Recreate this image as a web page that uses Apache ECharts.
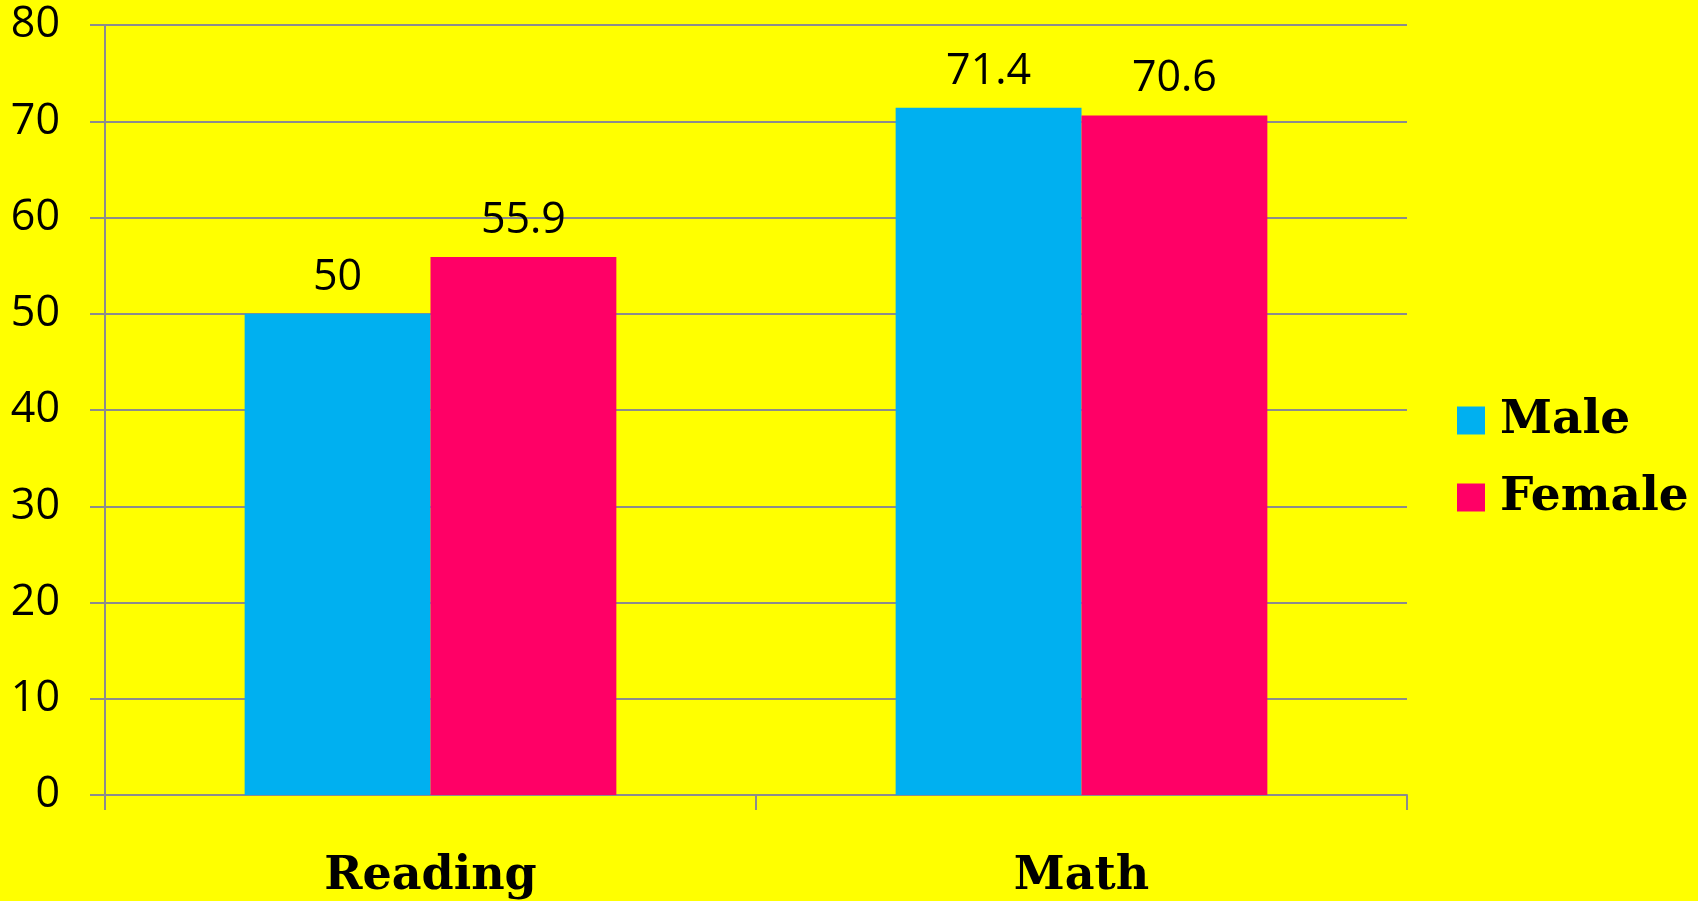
<!DOCTYPE html>
<html>
<head>
<meta charset="utf-8">
<style>
html,body{margin:0;padding:0;background:#FFFF00;}
#chart{width:1698px;height:901px;}
</style>
<script src="https://cdn.jsdelivr.net/npm/echarts@6/dist/echarts.min.js"></script>
</head>
<body>
<div id="chart"></div>
<script>
const categories = ['Reading', 'Math'];
const maleValues = [50, 71.4];
const femaleValues = [55.9, 70.6];
const seriesNames = ['Male', 'Female'];

const chart = echarts.init(document.getElementById('chart'));
const gridColor = '#8C8C8C';
const fancyFont = { fontFamily: 'DejaVu Serif', fontWeight: 'bold', color: '#000' };
const numFont = { fontFamily: 'Open Sans', fontSize: 43, color: '#000' };
chart.setOption({
  backgroundColor: '#FFFF00',
  animation: false,
  grid: { left: 105, right: 291, top: 25, bottom: 106, containLabel: false },
  legend: {
    orient: 'vertical',
    left: 1457,
    top: 397,
    padding: 0,
    itemWidth: 28,
    itemHeight: 28,
    itemGap: 30,
    icon: 'rect',
    data: seriesNames,
    textStyle: Object.assign({ fontSize: 47, lineHeight: 47, padding: [0, 0, 0, 10] }, fancyFont)
  },
  xAxis: {
    type: 'category',
    data: categories,
    axisLine: { lineStyle: { color: gridColor, width: 2 } },
    axisTick: { show: true, length: 15, lineStyle: { color: gridColor, width: 2 } },
    axisLabel: Object.assign({ margin: 59, fontSize: 46 }, fancyFont)
  },
  yAxis: {
    type: 'value',
    min: 0,
    max: 80,
    interval: 10,
    axisLine: { show: true, lineStyle: { color: gridColor, width: 2 } },
    axisTick: { show: true, length: 15, lineStyle: { color: gridColor, width: 2 } },
    splitLine: { lineStyle: { color: gridColor, width: 2 } },
    axisLabel: Object.assign({ margin: 45 }, numFont)
  },
  series: [
    {
      name: seriesNames[0],
      type: 'bar',
      data: maleValues,
      barGap: '0%',
      barCategoryGap: '42.9%',
      itemStyle: { color: '#00B0F0' },
      label: Object.assign({ show: true, position: 'top', distance: 15 }, numFont)
    },
    {
      name: seriesNames[1],
      type: 'bar',
      data: femaleValues,
      barGap: '0%',
      barCategoryGap: '42.9%',
      itemStyle: { color: '#FF0066' },
      label: Object.assign({ show: true, position: 'top', distance: 15 }, numFont)
    }
  ]
});
</script>
</body>
</html>
